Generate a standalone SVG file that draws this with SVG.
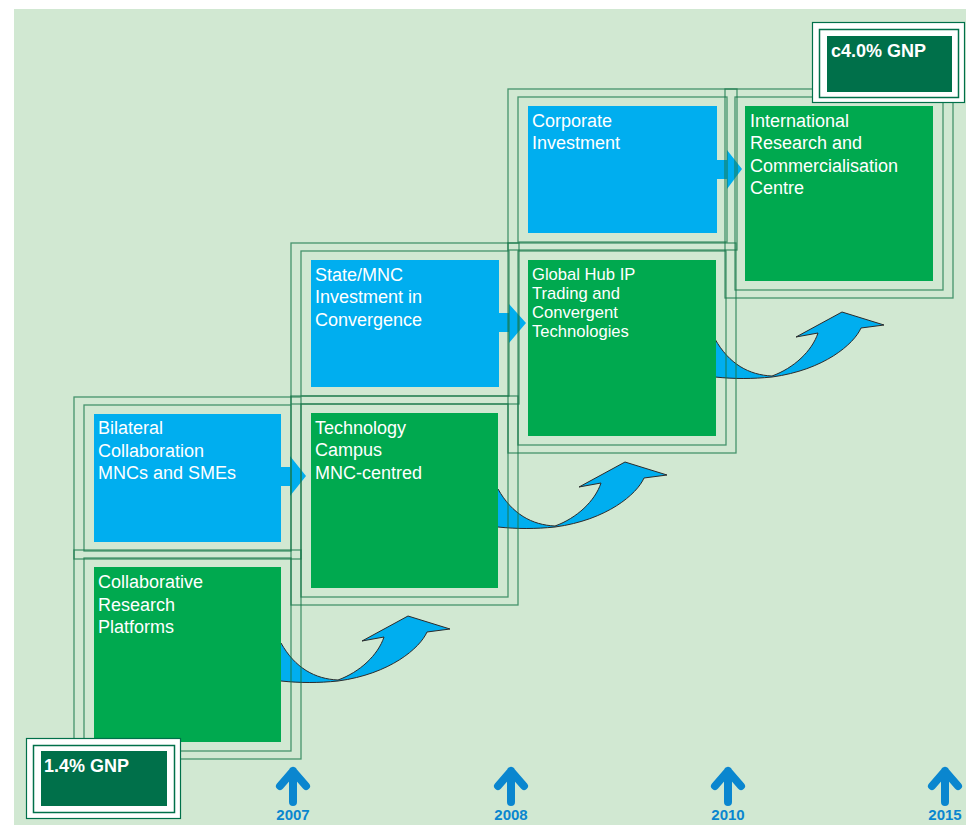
<svg xmlns="http://www.w3.org/2000/svg" width="966" height="825" viewBox="0 0 966 825">
<style>
.bg{fill:#d1e8d2}
.frame{fill:none;stroke:#17774a;stroke-opacity:0.75;stroke-width:1.3}
.green{fill:#00a94f}
.blue{fill:#00aeef}
.lbl{font-family:"Liberation Sans",Arial,sans-serif;font-size:18px;fill:#ffffff}
.lbl.sm{font-size:16.6px}
.curve{fill:#00aeef;stroke:#2b2b2b;stroke-width:1}
.gnpOuter{fill:#ffffff;stroke:#00704a;stroke-width:1.2}
.gnpInner{fill:none;stroke:#00704a;stroke-width:1.5}
.gnpFill{fill:#00704a}
.gnp{font-family:"Liberation Sans",Arial,sans-serif;font-size:18px;font-weight:bold;fill:#ffffff}
.yr{font-family:"Liberation Sans",Arial,sans-serif;font-size:15px;font-weight:bold;fill:#0a86cf;text-anchor:middle}
.yarrow{fill:none;stroke:#0a86cf;stroke-width:8;stroke-linecap:round;stroke-linejoin:round}
</style>
<defs>
<path id="curveArrow" class="curve" d="M278,643 L281,643 C295,668 315,679 338,680 C360,672 378,655 384,637 L362,641 L408,616 L450,629 L427,632 C420,648 390,674 338,681 C318,683 300,683 281,681 L278,681 Z"/>
</defs>
<rect class="bg" x="14" y="9" width="952" height="816"/>

<g id="connectors">
<use href="#curveArrow"/>
<use href="#curveArrow" transform="translate(217,-154)"/>
<use href="#curveArrow" transform="translate(434,-304)"/>
<path class="blue" d="M281,467 H290 V456 L306,476 L290,496 V486 H281 Z"/>
<path class="blue" d="M499,313 H509 V304 L526,323 L509,343 V332 H499 Z"/>
<path class="blue" d="M717,160 H727 V150 L742,169 L727,189 V179 H717 Z"/>
</g>

<g id="frames">
<rect class="frame" x="84" y="558" width="207" height="193"/>
<rect class="frame" x="74" y="550" width="227" height="209"/>
<rect class="frame" x="84" y="405" width="207" height="146"/>
<rect class="frame" x="74" y="397" width="227" height="162"/>
<rect class="frame" x="301" y="404" width="207" height="193"/>
<rect class="frame" x="291" y="396" width="227" height="209"/>
<rect class="frame" x="301" y="251" width="208" height="145"/>
<rect class="frame" x="291" y="243" width="228" height="161"/>
<rect class="frame" x="518" y="251" width="208" height="194"/>
<rect class="frame" x="508" y="243" width="228" height="210"/>
<rect class="frame" x="518" y="97" width="209" height="145"/>
<rect class="frame" x="508" y="89" width="229" height="161"/>
<rect class="frame" x="735" y="97" width="208" height="193"/>
<rect class="frame" x="725" y="89" width="228" height="209"/>
</g>

<g id="node-collab-research">
<rect class="green" x="94" y="567" width="187" height="175"/>
<text class="lbl" x="98" y="588">Collaborative</text>
<text class="lbl" x="98" y="611">Research</text>
<text class="lbl" x="98" y="633">Platforms</text>
</g>
<g id="node-bilateral">
<rect class="blue" x="94" y="414" width="187" height="128"/>
<text class="lbl" x="98" y="434">Bilateral</text>
<text class="lbl" x="98" y="457">Collaboration</text>
<text class="lbl" x="98" y="479">MNCs and SMEs</text>
</g>
<g id="node-tech-campus">
<rect class="green" x="311" y="413" width="187" height="175"/>
<text class="lbl" x="315" y="434">Technology</text>
<text class="lbl" x="315" y="456">Campus</text>
<text class="lbl" x="315" y="479">MNC-centred</text>
</g>
<g id="node-state-mnc">
<rect class="blue" x="311" y="260" width="188" height="127"/>
<text class="lbl" x="315" y="281">State/MNC</text>
<text class="lbl" x="315" y="303">Investment in</text>
<text class="lbl" x="315" y="326">Convergence</text>
</g>
<g id="node-global-hub">
<rect class="green" x="528" y="260" width="188" height="176"/>
<text class="lbl sm" x="532" y="280">Global Hub IP</text>
<text class="lbl sm" x="532" y="299">Trading and</text>
<text class="lbl sm" x="532" y="318">Convergent</text>
<text class="lbl sm" x="532" y="337">Technologies</text>
</g>
<g id="node-corporate">
<rect class="blue" x="528" y="106" width="189" height="127"/>
<text class="lbl" x="532" y="127">Corporate</text>
<text class="lbl" x="532" y="149">Investment</text>
</g>
<g id="node-international">
<rect class="green" x="745" y="106" width="188" height="175"/>
<text class="lbl" x="750" y="127">International</text>
<text class="lbl" x="750" y="149">Research and</text>
<text class="lbl" x="750" y="172">Commercialisation</text>
<text class="lbl" x="750" y="194">Centre</text>
</g>

<g id="node-gnp-start">
<rect class="gnpOuter" x="26.5" y="738.5" width="154" height="80"/>
<rect class="gnpInner" x="33.5" y="745.5" width="141" height="67"/>
<rect class="gnpFill" x="41" y="751" width="126" height="55"/>
<text class="gnp" x="44" y="772">1.4% GNP</text>
</g>
<g id="node-gnp-end">
<rect class="gnpOuter" x="812.5" y="22.5" width="152" height="80"/>
<rect class="gnpInner" x="819.5" y="29.5" width="139" height="68"/>
<rect class="gnpFill" x="827" y="36" width="125" height="56"/>
<text class="gnp" x="831" y="57">c4.0% GNP</text>
</g>

<g id="timeline">
<path class="yarrow" d="M293,802 V771 M280,786 L293,771 L306,786"/>
<path class="yarrow" d="M511,802 V771 M498,786 L511,771 L524,786"/>
<path class="yarrow" d="M728,802 V771 M715,786 L728,771 L741,786"/>
<path class="yarrow" d="M945,802 V771 M932,786 L945,771 L958,786"/>
<text class="yr" x="293" y="820">2007</text>
<text class="yr" x="511" y="820">2008</text>
<text class="yr" x="728" y="820">2010</text>
<text class="yr" x="945" y="820">2015</text>
</g>
</svg>
